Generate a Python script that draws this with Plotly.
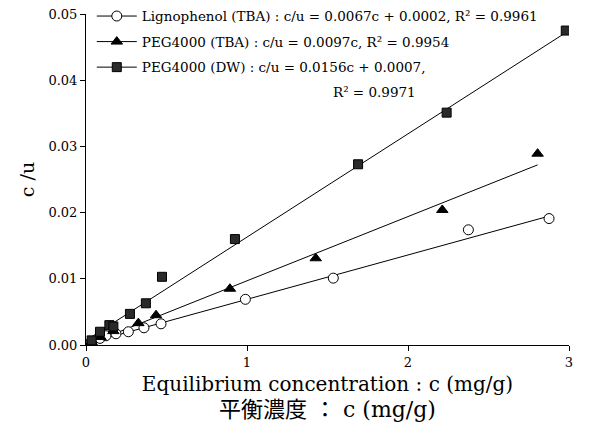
import plotly.graph_objects as go

# Data
ligno_x = [0.035, 0.087, 0.124, 0.186, 0.263, 0.36, 0.466, 0.99, 1.536, 2.375, 2.876]
ligno_y = [0.0005, 0.0010, 0.0014, 0.0017, 0.0020, 0.0026, 0.0032, 0.0069, 0.0101, 0.0174, 0.0191]

pegtba_x = [0.035, 0.09, 0.17, 0.325, 0.435, 0.894, 1.427, 2.213, 2.805]
pegtba_y = [0.0004, 0.0012, 0.0021, 0.0033, 0.0045, 0.0085, 0.0131, 0.0204, 0.0289]

pegdw_x = [0.035, 0.087, 0.145, 0.17, 0.273, 0.372, 0.472, 0.925, 1.69, 2.24, 2.98]
pegdw_y = [0.0007, 0.0020, 0.0030, 0.0028, 0.0047, 0.0063, 0.0103, 0.0160, 0.0273, 0.0351, 0.0475]

fit_slope = [0.0067, 0.0097, 0.0156]
fit_icpt = [0.0002, 0.0, 0.0007]

names = [
    "Lignophenol (TBA) : c/u = 0.0067c + 0.0002, R² = 0.9961",
    "PEG4000 (TBA) : c/u = 0.0097c, R² = 0.9954",
    "PEG4000 (DW) : c/u = 0.0156c + 0.0007,",
]
extra_text = "R² = 0.9971"
symbols = ["circle", "triangle-up", "square"]
fills = ["white", "black", "#2a2a2a"]
sizes = [10, 10, 9]

series = [(ligno_x, ligno_y), (pegtba_x, pegtba_y), (pegdw_x, pegdw_y)]

fig = go.Figure()

# fit lines
for (xs, ys), m, b in zip(series, fit_slope, fit_icpt):
    x0, x1 = 0.0, max(xs)
    fig.add_trace(go.Scatter(x=[x0, x1], y=[m * x0 + b, m * x1 + b], mode="lines",
                             line=dict(color="black", width=1), showlegend=False,
                             hoverinfo="skip"))

# data markers
for (xs, ys), sym, fc, sz in zip(series, symbols, fills, sizes):
    fig.add_trace(go.Scatter(x=xs, y=ys, mode="markers", showlegend=False,
                             marker=dict(symbol=sym, size=sz, color=fc,
                                         line=dict(color="black", width=1))))

# legend entries
for i, (nm, sym, fc, sz) in enumerate(zip(names, symbols, fills, sizes)):
    fig.add_trace(go.Scatter(x=[None], y=[None], mode="lines+markers", name=nm,
                             legendgroup=f"g{i}",
                             line=dict(color="black", width=1),
                             marker=dict(symbol=sym, size=sz, color=fc,
                                         line=dict(color="black", width=1))))

serif = "DejaVu Serif"
fig.add_annotation(text=extra_text, xref="paper", yref="paper", x=0.508, y=0.764,
                   xanchor="left", yanchor="middle", showarrow=False,
                   font=dict(family=serif, size=13.5))

fig.update_layout(
    width=589, height=438,
    margin=dict(l=86, r=20, t=14, b=93, autoexpand=False),
    plot_bgcolor="white", paper_bgcolor="white",
    font=dict(family=serif, size=13, color="black"),
    showlegend=True,
    legend=dict(x=0.012, y=1.04, xanchor="left", yanchor="top",
                bgcolor="rgba(0,0,0,0)", font=dict(family=serif, size=13.5),
                itemwidth=40, tracegroupgap=5),
    xaxis=dict(range=[0, 3], tickvals=[0, 1, 2, 3], ticktext=["0", "1", "2", "3"],
               showgrid=False, zeroline=False, showline=True, linecolor="black",
               linewidth=1, ticks="outside", ticklen=5, tickcolor="black",
               tickfont=dict(family=serif, size=13),
               title=dict(text="Equilibrium concentration : c (mg/g)<br>"
                               "<span style='font-size:22px'>平衡濃度 ： c (mg/g)</span>",
                          font=dict(family=serif + ", Noto Sans CJK JP", size=20),
                          standoff=8)),
    yaxis=dict(range=[0, 0.05], tickvals=[0, 0.01, 0.02, 0.03, 0.04, 0.05],
               tickformat=".2f", showgrid=False, zeroline=False, showline=True,
               linecolor="black", linewidth=1, ticks="outside", ticklen=5,
               tickcolor="black", tickfont=dict(family=serif, size=13),
               title=dict(text="c /u", font=dict(family=serif, size=19), standoff=8)),
)

fig.write_html("out.html")
